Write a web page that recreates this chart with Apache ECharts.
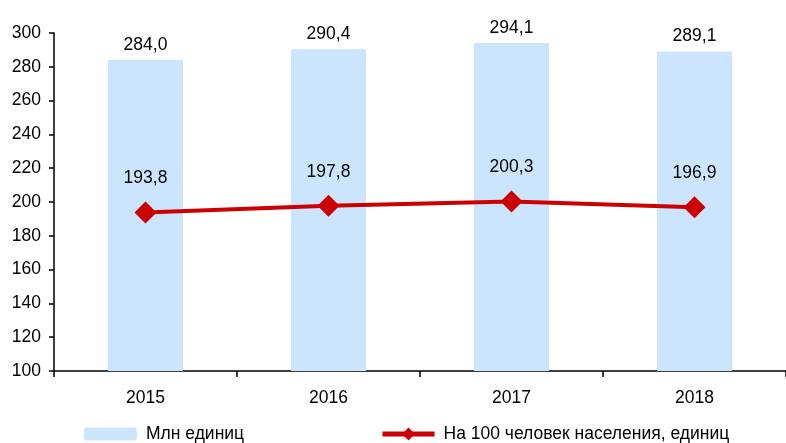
<!DOCTYPE html>
<html><head><meta charset="utf-8">
<script src="https://cdn.jsdelivr.net/npm/echarts@6/dist/echarts.min.js"></script>
<style>html,body{margin:0;padding:0;background:#fff}#c{width:786px;height:443px}</style>
</head><body><div id="c"></div>
<script>
const categories = ['2015', '2016', '2017', '2018'];
const unitsMln = [284.0, 290.4, 294.1, 289.1];
const per100 = [193.8, 197.8, 200.3, 196.9];
const barName = 'Млн единиц';
const lineName = 'На 100 человек населения, единиц';

const FONT = 'Liberation Sans, Arial, sans-serif';
const FS = 17.5;
const fmt = p => p.value.toFixed(1).replace('.', ',');
const chart = echarts.init(document.getElementById('c'));
chart.setOption({
  animation: false,
  textStyle: { fontFamily: FONT },
  grid: { left: 54, right: 0, top: 33, bottom: 72 },
  legend: [
    { data: [barName], left: 84, top: 425, padding: 0, itemWidth: 53, itemHeight: 13, itemGap: 10,
      textStyle: { fontSize: FS, color: '#000', fontFamily: FONT, padding: [0, 0, 0, 4] } },
    { data: [lineName], left: 380, top: 425, padding: 0, itemWidth: 52, itemHeight: 16,
      lineStyle: { width: 5 },
      textStyle: { fontSize: FS, color: '#000', fontFamily: FONT, padding: [0, 0, 0, 4] } }
  ],
  xAxis: {
    type: 'category', data: categories,
    axisLine: { lineStyle: { color: '#000', width: 1.5 } },
    axisTick: { show: true, length: 6, lineStyle: { color: '#000', width: 1.5 } },
    axisLabel: { color: '#000', fontSize: FS, margin: 18 }
  },
  yAxis: {
    type: 'value', min: 100, max: 300, interval: 20,
    axisLine: { show: true, lineStyle: { color: '#000', width: 1.5 } },
    axisTick: { show: true, length: 5, lineStyle: { color: '#000', width: 1.5 } },
    splitLine: { show: false },
    axisLabel: { color: '#000', fontSize: FS, margin: 13 }
  },
  series: [
    { name: barName, type: 'bar', data: unitsMln, barWidth: 75,
      itemStyle: { color: '#CCE5FF' },
      label: { show: true, position: 'top', distance: 6, color: '#000', fontSize: FS, formatter: fmt } },
    { name: lineName, type: 'line', data: per100,
      symbol: 'diamond', symbolSize: 22,
      lineStyle: { color: '#CC0000', width: 4 },
      itemStyle: { color: '#CC0000' },
      label: { show: true, position: 'top', distance: 14, color: '#000', fontSize: FS, formatter: fmt } }
  ]
});
</script></body></html>
